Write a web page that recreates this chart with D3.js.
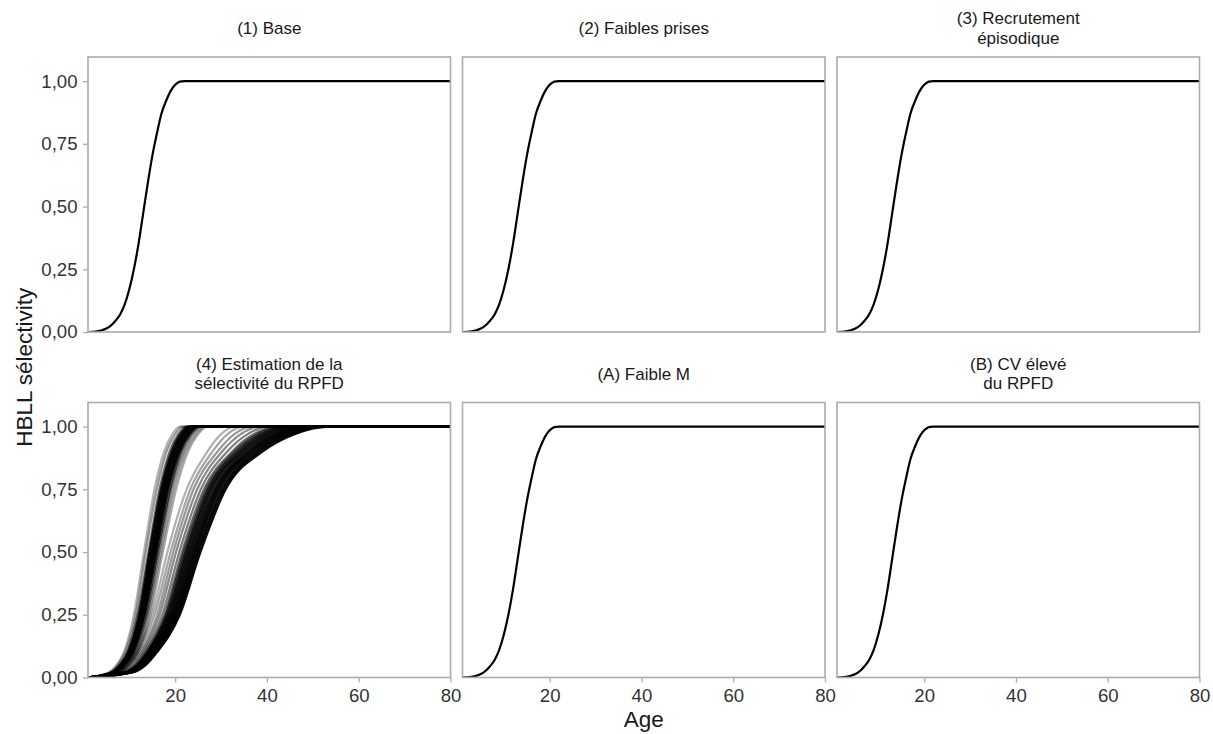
<!DOCTYPE html>
<html><head><meta charset="utf-8">
<script src="https://cdn.jsdelivr.net/npm/d3@7"></script>
<style>
body{margin:0;background:#fff}
svg{display:block}
text{font-family:"Liberation Sans", Arial, Helvetica, sans-serif}
</style>
</head><body>
<svg id="chart" width="1213" height="734"></svg>
<script>
// ---------- data ----------
const panelTitles = [
  "(1) Base", "(2) Faibles prises", "(3) Recrutement\népisodique",
  "(4) Estimation de la\nsélectivité du RPFD", "(A) Faible M", "(B) CV élevé\ndu RPFD"
];
// single selectivity curve (panels 1,2,3,A,B)
const baseAges = [1,2,3,4,5,6,7,8,9,10,11,12,13,14,15,16,17,18,19,20,21,22,80];
const baseSelectivity = [0,0.001,0.003,0.007,0.014,0.026,0.045,0.07,0.11,0.17,0.25,0.35,0.47,0.59,0.70,0.79,0.87,0.92,0.96,0.985,0.998,1,1];
// panel (4): age at which each curve reaches these selectivity levels
const ensembleLevels = [0, 0.02, 0.05, 0.1, 0.25, 0.5, 0.75, 0.9, 0.97, 1];
const rpfdEarly = [
  [1,5.5,7.2,8.8,11.0,13.2,15.5,17.6,19.4,21.0],
  [1,5.7,7.5,9.1,11.4,13.6,16.0,18.1,20.0,21.6],
  [1,6.0,7.8,9.5,11.8,14.2,16.6,18.8,20.7,22.4],
  [1,6.2,8.0,9.7,12.1,14.4,16.9,19.2,21.1,22.8],
  [1,6.3,8.1,9.9,12.3,14.6,17.1,19.4,21.4,23.1],
  [1,6.4,8.3,10.0,12.4,14.9,17.4,19.7,21.6,23.4],
  [1,6.5,8.4,10.2,12.6,15.1,17.6,19.9,21.9,23.7],
  [1,6.6,8.5,10.3,12.8,15.3,17.8,20.2,22.2,24.0],
  [1,6.8,8.7,10.5,13.0,15.5,18.1,20.5,22.5,24.3],
  [1,6.9,8.8,10.6,13.2,15.7,18.3,20.7,22.8,24.6],
  [1,7.0,8.9,10.8,13.3,15.9,18.5,21.0,23.1,24.9],
  [1,7.1,9.1,11.0,13.6,16.2,18.9,21.3,23.4,25.3],
  [1,7.3,9.4,11.3,13.9,16.5,19.2,21.8,23.9,25.8],
  [1,7.6,9.6,11.6,14.2,16.9,19.7,22.3,24.5,26.4],
  [1,7.8,9.9,11.9,14.6,17.3,20.2,22.8,25.0,27.0]
];
const rpfdLate = [
  [1,7.5,9.5,11.5,15.0,18.3,22.5,27.0,30.0,33.0],
  [1,7.8,9.9,11.9,15.5,19.0,23.3,28.1,31.4,34.9],
  [1,8.1,10.2,12.3,16.1,19.6,24.0,29.2,32.9,36.8],
  [1,8.4,10.6,12.7,16.6,20.2,24.8,30.2,34.3,38.7],
  [1,8.7,11.0,13.1,17.2,20.9,25.6,31.3,35.8,40.6],
  [1,8.9,11.4,13.5,17.7,21.5,26.3,32.4,37.2,42.5],
  [1,9.1,11.6,13.8,18.0,21.9,26.8,33.0,38.0,43.5],
  [1,9.3,11.8,14.0,18.3,22.3,27.2,33.6,38.8,44.6],
  [1,9.4,12.0,14.2,18.6,22.6,27.6,34.2,39.6,45.6],
  [1,9.6,12.2,14.4,18.9,23.0,28.0,34.8,40.4,46.7],
  [1,9.7,12.4,14.7,19.2,23.3,28.5,35.4,41.2,47.7],
  [1,9.9,12.6,14.9,19.5,23.7,28.9,36.0,42.0,48.8],
  [1,10.1,12.8,15.1,19.8,24.1,29.3,36.6,42.8,49.8],
  [1,10.2,13.0,15.3,20.1,24.4,29.7,37.2,43.6,50.9],
  [1,10.4,13.2,15.6,20.4,24.8,30.2,37.8,44.4,51.9],
  [1,10.5,13.4,15.8,20.7,25.1,30.6,38.4,45.2,53.0],
  [1,10.7,13.6,16.0,21.0,25.5,31.0,39.0,46.0,54.0]
];
const maxAge = 80;
const xTicks = [20, 40, 60, 80];
const yTicks = [0, 0.25, 0.5, 0.75, 1];

// ---------- styles ----------
const earlyOpacity = [0.3,0.4,0.6,0.8,0.9,0.9,0.9,0.9,0.9,0.9,0.85,0.7,0.5,0.4,0.35];
const lateOpacity = [0.3,0.35,0.4,0.45,0.5,0.6,0.75,0.85,0.9,0.9,0.9,0.95,0.95,0.95,0.95,0.95,0.95];
const borderColor = "#ababab";

// ---------- layout ----------
const panelW = 362.5, panelH = 275;
const colX = [88, 462.5, 837];
const rowY = [57, 402.5];

const svg = d3.select("#chart");
svg.append("rect").attr("width",1213).attr("height",734).attr("fill","#fff");

const x = d3.scaleLinear().domain([1, maxAge]).range([0, panelW]);
const y = d3.scaleLinear().domain([0, 1.096]).range([panelH, 0]);
const line = d3.line().x(d => x(d[0])).y(d => y(d[1])).curve(d3.curveMonotoneX);
const fmt = v => d3.format(".2f")(v).replace(".", ",");

const basePts = baseAges.map((a,i) => [a, baseSelectivity[i]]);
const toPts = arr => arr.map((a,i) => [a, ensembleLevels[i]]).concat([[maxAge, 1]]);

panelTitles.forEach((title, i) => {
  const row = Math.floor(i/3), col = i % 3;
  const g = svg.append("g").attr("transform", `translate(${colX[col]},${rowY[row]})`);
  const cid = "clip" + i;
  svg.append("clipPath").attr("id", cid).append("rect")
    .attr("x", 0).attr("y", 0).attr("width", panelW).attr("height", panelH);
  const plot = g.append("g").attr("clip-path", `url(#${cid})`);

  if (i === 3) {
    rpfdLate.forEach((arr, k) => {
      plot.append("path").attr("d", line(toPts(arr))).attr("fill","none")
        .attr("stroke","#000").attr("stroke-width",2.3).attr("stroke-opacity", lateOpacity[k]);
    });
    rpfdEarly.forEach((arr, k) => {
      plot.append("path").attr("d", line(toPts(arr))).attr("fill","none")
        .attr("stroke","#000").attr("stroke-width",2.3).attr("stroke-opacity", earlyOpacity[k]);
    });
  } else {
    plot.append("path").attr("d", line(basePts)).attr("fill","none")
      .attr("stroke","#000").attr("stroke-width",2.2);
  }

  g.append("rect").attr("width", panelW).attr("height", panelH)
    .attr("fill","none").attr("stroke", borderColor).attr("stroke-width", 1.6);

  // strip title
  const lines = title.split("\n");
  const lh = 19.5;
  lines.forEach((ln, j) => {
    g.append("text").attr("text-anchor","middle").attr("font-size", 17).attr("fill","#1a1a1a")
      .attr("x", panelW/2).attr("y", -23 - (lines.length-1)*lh/2 + j*lh).text(ln);
  });

  if (col === 0) {
    const ax = g.append("g").call(d3.axisLeft(y).tickValues(yTicks).tickSize(5).tickPadding(5.5).tickFormat(fmt));
    ax.select(".domain").remove();
    ax.selectAll(".tick line").attr("stroke", borderColor).attr("stroke-width", 1.3);
    ax.selectAll(".tick text").attr("font-size", 18.6).attr("fill","#333").attr("font-family", null);
  }
  if (row === 1) {
    const ax = g.append("g").attr("transform", `translate(0,${panelH})`)
      .call(d3.axisBottom(x).tickValues(xTicks).tickSize(5).tickPadding(6).tickFormat(d3.format("d")));
    ax.select(".domain").remove();
    ax.selectAll(".tick line").attr("stroke", borderColor).attr("stroke-width", 1.3);
    ax.selectAll(".tick text").attr("font-size", 18.6).attr("fill","#333").attr("font-family", null);
  }
});

svg.append("text").attr("x", 643.75).attr("y", 727).attr("text-anchor","middle")
  .attr("font-size", 22.5).attr("fill","#1a1a1a").text("Age");
svg.append("text").attr("transform", "translate(31.5,367.25) rotate(-90)").attr("text-anchor","middle")
  .attr("font-size", 22.5).attr("fill","#1a1a1a").text("HBLL sélectivity");
</script>
</body></html>
